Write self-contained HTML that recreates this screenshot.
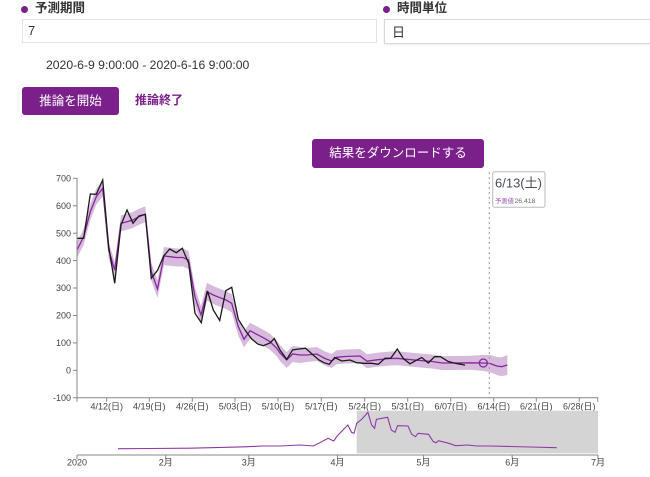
<!DOCTYPE html>
<html><head><meta charset="utf-8">
<style>
html,body{margin:0;padding:0;background:#fff;}
body{width:650px;height:477px;position:relative;overflow:hidden;font-family:"Liberation Sans","Noto Sans CJK JP",sans-serif;color:#333;}
.abs{position:absolute;}
.lbl{font-weight:bold;font-size:12.5px;color:#333;line-height:14px;}
.dot{width:7px;height:7px;border-radius:50%;background:#7b1f8b;}
.inp{border:1px solid #e4e4e4;background:#fff;box-sizing:border-box;font-size:13px;color:#333;}
.btn{background:#7b1f8b;color:#fff;border-radius:3px;text-align:center;box-sizing:border-box;}
</style></head><body>
<div class="abs dot" style="left:21px;top:5.5px;"></div>
<div class="abs lbl" style="left:35px;top:1px;">予測期間</div>
<div class="abs dot" style="left:383px;top:5.5px;"></div>
<div class="abs lbl" style="left:397px;top:1px;">時間単位</div>
<div class="abs inp" style="left:22px;top:19px;width:355px;height:24px;line-height:22px;padding-left:5px;">7</div>
<div class="abs inp" style="left:384px;top:19px;width:280px;height:25px;line-height:25px;padding-left:7px;border-color:#d8d8d8;box-shadow:0 1px 2px rgba(0,0,0,0.08);">日</div>
<div class="abs" style="left:46px;top:57px;font-size:12.2px;line-height:16px;color:#333;white-space:nowrap;">2020-6-9 9:00:00 - 2020-6-16 9:00:00</div>
<div class="abs btn" style="left:22px;top:87px;width:97px;height:28px;line-height:28px;font-size:12.5px;">推論を開始</div>
<div class="abs" style="left:135px;top:92px;font-size:12px;font-weight:bold;color:#7b1f8b;line-height:16px;">推論終了</div>
<div class="abs btn" style="left:312px;top:139px;width:172px;height:29px;line-height:29px;font-size:12.5px;">結果をダウンロードする</div>

<svg class="abs" style="left:0;top:0;" width="650" height="477" viewBox="0 0 650 477" xmlns="http://www.w3.org/2000/svg">
<g font-family="Liberation Sans, Noto Sans CJK JP, sans-serif" font-size="9" fill="#444">
<polygon fill="#7b1f8b" fill-opacity="0.3" points="77,242 83.7,228.7 90.3,203.7 96.3,188.7 102.7,180.3 108.7,242 114.7,262 121,215.3 127,213.7 133,212 139,208.7 145.3,206.3 151.3,262.7 157.5,280 164,247 170,247.7 176.5,248.5 183,248.5 188.5,251 195,288 201,306 207,282.7 213.3,286 220,288.7 226,291 231.7,294.3 238.3,317.7 244,331.3 250,322.7 256.7,326.3 263.3,329.7 270,333.7 276.7,340.3 280,345 286.7,352 292.7,346 300,347 306.7,348 316.7,347 325,351.5 331.7,354 336.5,350.3 345,349.5 360,349 367,354.2 377,352.8 390,351.5 397,351.3 407,352.3 420,353.5 432,354.5 442,356 455,356 470,355.8 483.3,355 490,355 496.7,357 501.7,357.2 507.3,355 507.3,375 501.7,376.2 496.7,375 490,372 483.3,371 470,369.8 455,370 442,370 432,368.5 420,367.5 407,366.3 397,365.3 390,365.5 377,366.8 367,368.2 360,363 345,363.5 336.5,364.3 331.7,368 325,365.5 316.7,361 306.7,362 300,363 292.7,362 286.7,368 280,361 276.7,356.3 270,349.7 263.3,345.7 256.7,342.3 250,338.7 244,347.3 238.3,335.7 231.7,312.3 226,309 220,306.7 213.3,304 207,300.7 201,324 195,306 188.5,269 183,266.5 176.5,266.5 170,265.7 164,265 157.5,298 151.3,280.7 145.3,222.3 139,224.7 133,228 127,229.7 121,231.3 114.7,278 108.7,258 102.7,196.3 96.3,204.7 90.3,219.7 83.7,244.7 77,258"/>
<polyline fill="none" stroke="#86279c" stroke-width="1.3" points="77,250 83.7,236.7 90.3,211.7 96.3,196.7 102.7,188.3 108.7,250 114.7,270 121,223.3 127,221.7 133,220 139,216.7 145.3,214.3 151.3,271.7 157.5,289 164,256 170,256.7 176.5,257.5 183,257.5 188.5,260 195,297 201,315 207,291.7 213.3,295 220,297.7 226,300 231.7,303.3 238.3,326.7 244,339.3 250,330.7 256.7,334.3 263.3,337.7 270,341.7 276.7,348.3 280,353 286.7,360 292.7,354 300,355 306.7,355 316.7,354 325,358.5 331.7,361 336.5,357.3 345,356.5 360,356 367,361.2 377,359.8 390,358.5 397,358.3 407,359.3 420,360.5 432,361.5 442,363 455,363 470,362.8 483.3,363 490,363.5 496.7,366 501.7,366.7 507.3,365"/>
<polyline fill="none" stroke="#1a1a1a" stroke-width="1.3" points="77,238.3 83.7,238.3 90.3,194 96.3,194.3 102.7,180 108.7,246.7 114.7,283.3 121,225 127,210 133,223.3 139,216 145.3,214.3 151.3,278.3 157.7,270 163.7,256 169.7,249 176.3,252.7 182.3,248.3 188.7,263.3 195,313.3 201.3,322.7 207.5,291 213.3,310 219.7,320.5 225.8,290.7 231.7,287.3 238.3,319.3 245,330 251.7,339 257.8,344 263.3,345.7 270,343 274.3,338.5 280,350 286.7,359.3 292.7,349.8 299.3,349 305.5,348.2 312,354 319,360 324,362.7 329.3,364.2 334.7,357.5 341.7,361 350,360 356.7,362.7 364.3,363.3 371.7,363.3 378.3,364.3 385,358.3 390.7,358.3 397.3,349 403.3,358.5 410,363.8 415.5,360.7 421.7,357.5 428.3,363 434.5,356.7 440.5,356.7 448.3,361.5 455,363.3 461,364.3 465,365.2"/>
<circle cx="483.3" cy="363" r="4" fill="none" stroke="#86279c" stroke-width="1.3"/>
<line x1="489.3" y1="172" x2="489.3" y2="398" stroke="#999" stroke-width="1" stroke-dasharray="2,3"/>
<path d="M73,178.3 H77 V397.7 H73" fill="none" stroke="#888" stroke-width="1"/>
<g stroke="#888" stroke-width="1">
<line x1="73" y1="205.8" x2="77" y2="205.8"/><line x1="73" y1="233.2" x2="77" y2="233.2"/><line x1="73" y1="260.6" x2="77" y2="260.6"/><line x1="73" y1="288" x2="77" y2="288"/><line x1="73" y1="315.5" x2="77" y2="315.5"/><line x1="73" y1="342.9" x2="77" y2="342.9"/><line x1="73" y1="370.3" x2="77" y2="370.3"/>
</g>
<g text-anchor="end">
<text x="71" y="181.5">700</text><text x="71" y="209">600</text><text x="71" y="236.4">500</text><text x="71" y="263.8">400</text><text x="71" y="291.2">300</text><text x="71" y="318.7">200</text><text x="71" y="346.1">100</text><text x="71" y="373.5">0</text><text x="71" y="400.9">-100</text>
</g>
<path d="M77,401.7 V397.7 H597.7 V401.7" fill="none" stroke="#888" stroke-width="1"/>
<g stroke="#888" stroke-width="1">
<line x1="106.7" y1="397.7" x2="106.7" y2="401.7"/><line x1="149.3" y1="397.7" x2="149.3" y2="401.7"/><line x1="192.3" y1="397.7" x2="192.3" y2="401.7"/><line x1="235" y1="397.7" x2="235" y2="401.7"/><line x1="278" y1="397.7" x2="278" y2="401.7"/><line x1="321.3" y1="397.7" x2="321.3" y2="401.7"/><line x1="364.7" y1="397.7" x2="364.7" y2="401.7"/><line x1="407.7" y1="397.7" x2="407.7" y2="401.7"/><line x1="450.7" y1="397.7" x2="450.7" y2="401.7"/><line x1="493.7" y1="397.7" x2="493.7" y2="401.7"/><line x1="536.3" y1="397.7" x2="536.3" y2="401.7"/><line x1="579.3" y1="397.7" x2="579.3" y2="401.7"/>
</g>
<g text-anchor="middle" font-size="9">
<text x="106.7" y="409.5">4/12(日)</text><text x="149.3" y="409.5">4/19(日)</text><text x="192.3" y="409.5">4/26(日)</text><text x="235" y="409.5">5/03(日)</text><text x="278" y="409.5">5/10(日)</text><text x="321.3" y="409.5">5/17(日)</text><text x="364.7" y="409.5">5/24(日)</text><text x="407.7" y="409.5">5/31(日)</text><text x="450.7" y="409.5">6/07(日)</text><text x="493.7" y="409.5">6/14(日)</text><text x="536.3" y="409.5">6/21(日)</text><text x="579.3" y="409.5">6/28(日)</text>
</g>
<rect x="492.7" y="171.7" width="52.3" height="35.6" rx="2" fill="#fff" stroke="#bbb" stroke-width="1"/>
<text x="495" y="187.5" font-size="13" fill="#4a4f57">6/13(土)</text>
<text x="495" y="203" font-size="6.3" fill="#9b4fb0">予測値</text>
<text x="514.5" y="203" font-size="6.8" fill="#666">26.418</text>
<rect x="356.7" y="410.7" width="241.3" height="42.6" fill="#d4d4d4"/>
<polyline fill="none" stroke="#8e3aa6" stroke-width="1.1" points="118,448.7 150,448.5 190,448.2 226,447.3 245,446.8 263,446 280,446 300.2,445 313.2,446 318.8,443.3 328.1,438.3 333.7,441 337.4,435.7 347.8,425 351.5,432.3 354.1,433.3 356.7,423.3 362,419 367.9,412.3 371.6,425 374.6,428.3 376.4,419.3 387.6,417.3 391.3,430 395,432.3 397.6,425.7 408,426 411.7,434.3 415.5,436.7 418.1,433.3 428.5,434.3 433.3,441.7 436,442.7 438.5,440.7 448.9,443.3 455.6,445.7 467.5,445 476.8,446 490,446 510,446.5 530,447 556.7,447.7"/>
<line x1="77" y1="455" x2="598" y2="455" stroke="#888" stroke-width="1"/>
<g stroke="#888" stroke-width="1">
<line x1="77" y1="455" x2="77" y2="459"/><line x1="165.7" y1="455" x2="165.7" y2="459"/><line x1="248.8" y1="455" x2="248.8" y2="459"/><line x1="337.5" y1="455" x2="337.5" y2="459"/><line x1="423.4" y1="455" x2="423.4" y2="459"/><line x1="512.2" y1="455" x2="512.2" y2="459"/><line x1="598" y1="455" x2="598" y2="459"/>
</g>
<g text-anchor="middle" font-size="9">
<text x="77" y="465.5">2020</text><text x="165.7" y="465.5">2月</text><text x="248.8" y="465.5">3月</text><text x="337.5" y="465.5">4月</text><text x="423.4" y="465.5">5月</text><text x="512.2" y="465.5">6月</text><text x="598" y="465.5">7月</text>
</g>
</g>
</svg>
</body></html>
